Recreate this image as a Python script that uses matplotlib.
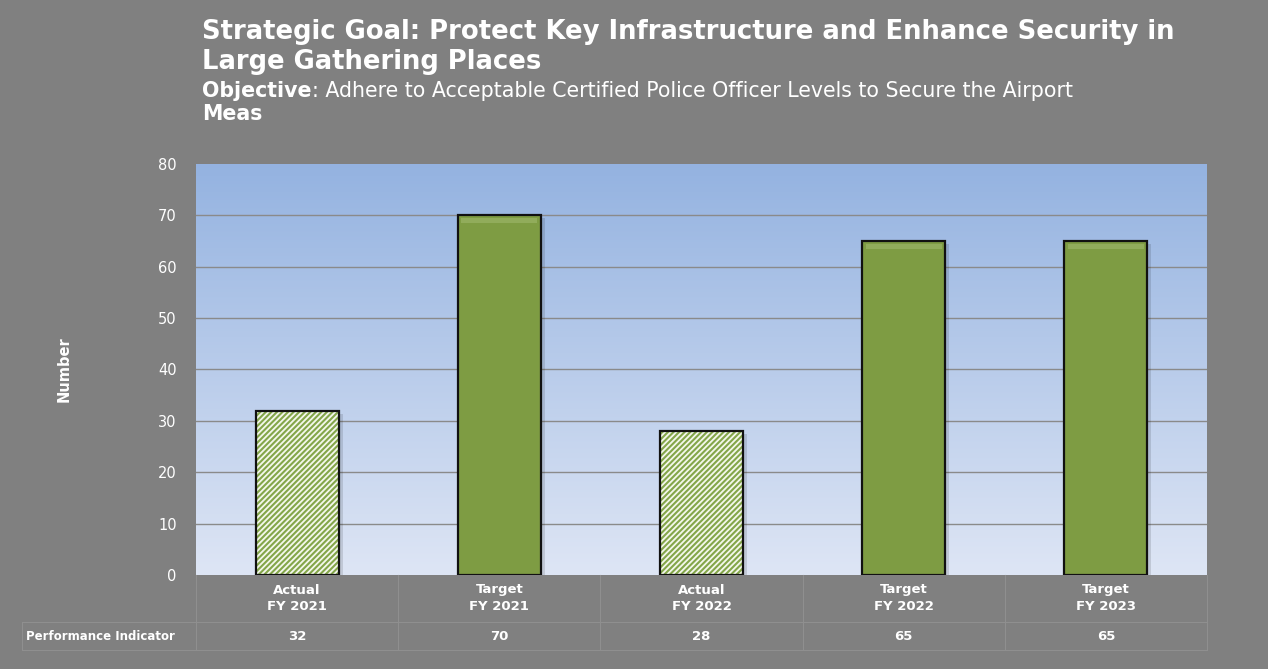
import numpy as np
import matplotlib.pyplot as plt
from matplotlib.transforms import blended_transform_factory

# chart data
categories = ["Actual\nFY 2021", "Target\nFY 2021", "Actual\nFY 2022", "Target\nFY 2022", "Target\nFY 2023"]
values = [32, 70, 28, 65, 65]
is_actual = [True, False, True, False, False]
yticks = [0, 10, 20, 30, 40, 50, 60, 70, 80]

bg = "#808080"
green = "#7e9c43"
plt.rcParams["font.family"] = ["DejaVu Sans"]
narrow = ["Liberation Sans Narrow", "DejaVu Sans"]

fig = plt.figure(figsize=(12.68, 6.69), dpi=100, facecolor=bg)
ax = fig.add_axes([0.1546, 0.1405, 0.7973, 0.6144])
ax.set_xlim(-0.5, len(values) - 0.5)
ax.set_ylim(0, 80)

# gradient plot area
grad = np.linspace(0, 1, 256).reshape(-1, 1)
top = np.array([0.58, 0.70, 0.88])
bot = np.array([0.87, 0.90, 0.96])
img = top * grad + bot * (1 - grad)
ax.imshow(img.reshape(256, 1, 3), extent=[-0.5, len(values) - 0.5, 0, 80],
          aspect="auto", origin="lower", zorder=0)

for y in yticks[1:-1]:
    ax.axhline(y, color="#8a8a8a", lw=1, zorder=1)

x = np.arange(len(values))
w = 0.41
plt.rcParams["hatch.linewidth"] = 1.5
for xi, v, act in zip(x, values, is_actual):
    # soft shadow
    ax.bar(xi + 0.02, v, w, bottom=-0.6, color="#000000", alpha=0.12, zorder=2, lw=0)
    if act:
        ax.bar(xi, v, w, color="#f4f7ec", edgecolor="#84a64a", hatch="//////", lw=0, zorder=3)
    else:
        ax.bar(xi, v, w, color=green, lw=0, zorder=3)
        # bevel highlight at top
        ax.bar(xi, 1.0, w * 0.92, bottom=v - 1.5, color="#a2bb70", lw=0, zorder=3.5, alpha=0.55)
    ax.bar(xi, v, w, fill=False, edgecolor="#111111", lw=1.6, zorder=4)

ax.set_yticks(yticks)
ax.set_xticks([])
ax.tick_params(axis="y", colors="white", labelsize=10.5, length=0, pad=14)
for s in ax.spines.values():
    s.set_visible(False)

ax.set_ylabel("Number", color="white", fontsize=10.5, fontweight="bold")
ax.yaxis.set_label_coords((72 - 196) / 1011, 0.5)

# data table below axes
tr = blended_transform_factory(ax.transData, fig.transFigure)
def fy(py):
    return 1 - py / 669.0
line_c = "#8f8f8f"
for xi, cat, v in zip(x, categories, values):
    ax.text(xi, fy(598), cat, transform=tr, ha="center", va="center", color="white",
            fontsize=9.5, fontweight="bold", linespacing=1.3, family=narrow)
    ax.text(xi, fy(636), str(v), transform=tr, ha="center", va="center", color="white",
            fontsize=9.5, fontweight="bold", family=narrow)
fig.text(26 / 1268, fy(636), "Performance Indicator", ha="left", va="center", color="white",
         fontsize=8.5, fontweight="bold", family=narrow)
for b in np.arange(len(values) + 1) - 0.5:
    ax.plot([b, b], [fy(575), fy(650)], transform=tr, color=line_c, lw=0.8, clip_on=False)
fig.add_artist(plt.Line2D([22 / 1268, 1207 / 1268], [fy(622), fy(622)], color=line_c, lw=0.8))
fig.add_artist(plt.Line2D([22 / 1268, 1207 / 1268], [fy(650), fy(650)], color=line_c, lw=0.8))
fig.add_artist(plt.Line2D([22 / 1268, 22 / 1268], [fy(622), fy(650)], color=line_c, lw=0.8))

# titles
fig.text(202 / 1268, fy(32), "Strategic Goal: Protect Key Infrastructure and Enhance Security in",
         ha="left", va="center", color="white", fontsize=18.6, fontweight="bold")
fig.text(202 / 1268, fy(62), "Large Gathering Places",
         ha="left", va="center", color="white", fontsize=18.6, fontweight="bold")
t = fig.text(202 / 1268, fy(91), "Objective", ha="left", va="center", color="white",
             fontsize=14.8, fontweight="bold")
fig.canvas.draw()
bb = t.get_window_extent()
fig.text(bb.x1 / 1268, fy(91), ": Adhere to Acceptable Certified Police Officer Levels to Secure the Airport",
         ha="left", va="center", color="white", fontsize=14.8)
fig.text(202 / 1268, fy(114), "Meas", ha="left", va="center", color="white",
         fontsize=14.8, fontweight="bold")

fig.savefig("out.png", dpi=100, facecolor=bg)
